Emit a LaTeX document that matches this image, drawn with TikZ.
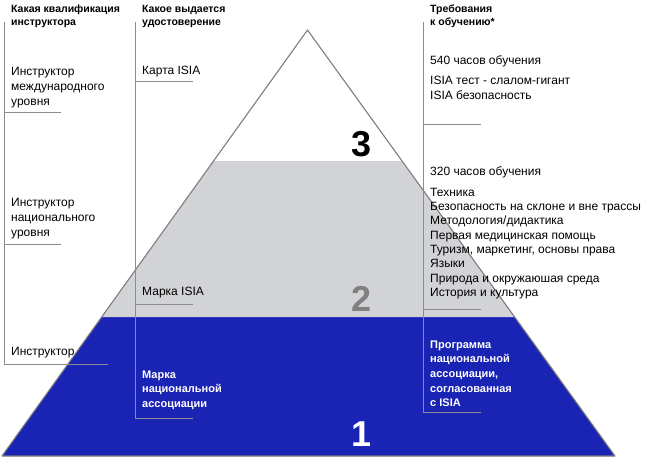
\documentclass[tikz,border=0pt]{standalone}
\usepackage{fontspec}
\setmainfont{Liberation Sans}
\usepackage{tikz}
\usetikzlibrary{calc}
\definecolor{isiaBlue}{RGB}{26,36,180}
\definecolor{isiaGray}{RGB}{210,211,214}
\definecolor{edgeGray}{RGB}{125,125,125}
\definecolor{tickGray}{RGB}{140,140,140}
\definecolor{numGray}{RGB}{128,128,128}

\begin{document}
\begin{tikzpicture}[x=1pt, y=-1pt,
  hdr/.style={anchor=base west, inner sep=0pt, align=left,
    font=\fontsize{10.5}{12.8}\selectfont\bfseries},
  lbl/.style={anchor=base west, inner sep=0pt, align=left,
    font=\fontsize{12}{15}\selectfont},
  lst/.style={anchor=base west, inner sep=0pt, align=left,
    font=\fontsize{12}{14.3}\selectfont},
  wlbl/.style={anchor=base west, inner sep=0pt, align=left, text=white,
    font=\fontsize{11}{14.6}\selectfont\bfseries},
  num/.style={anchor=base, inner sep=0pt,
    font=\fontsize{36}{36}\selectfont\bfseries},
  bracket/.style={draw=tickGray, line width=0.8pt}]
\useasboundingbox (0,0) rectangle (653,467);
% pyramid
\coordinate (apex) at (307.5,30);
\coordinate (baseL) at (2,456);
\coordinate (baseR) at (615,456);
\coordinate (grayL) at ($(apex)!0.3075!(baseL)$);
\coordinate (grayR) at ($(apex)!0.3075!(baseR)$);
\coordinate (blueL) at ($(apex)!0.6737!(baseL)$);
\coordinate (blueR) at ($(apex)!0.6737!(baseR)$);
\fill[isiaBlue] (blueL) -- (blueR) -- (baseR) -- (baseL) -- cycle;
\fill[isiaGray] (grayL) -- (grayR) -- (blueR) -- (blueL) -- cycle;
\draw[edgeGray, line width=1.1pt, line join=round] (apex) -- (baseR) -- (baseL) -- cycle;
\node[num, text=black] (numThree) at (362,156) {3};
\node[num, text=numGray] (numTwo) at (362,311) {2};
\node[num, text=white] (numOne) at (362,446) {1};
% brackets
\draw[bracket] (4,22) -- (4,364) -- (108,364);
\draw[bracket] (4,112) -- (61,112);
\draw[bracket] (4,244) -- (61,244);
\draw[bracket] (135,22) -- (135,418) -- (193,418);
\draw[bracket] (135,81) -- (193,81);
\draw[bracket] (135,304) -- (193,304);
\draw[bracket] (423,22) -- (423,412) -- (481,412);
\draw[bracket] (423,124) -- (481,124);
\draw[bracket] (423,309) -- (481,309);
% headers (base = last line)
\node[hdr] (hdrQual) at (11,25) {Какая квалификация\\инструктора};
\node[hdr] (hdrCert) at (142,25) {Какое выдается\\удостоверение};
\node[hdr] (hdrReq) at (430,25) {Требования\\к обучению*};
% qualification
\node[lbl] (qualIntl) at (11,105) {Инструктор\\международного\\уровня};
\node[lbl] (qualNat) at (11,236) {Инструктор\\национального\\уровня};
\node[lbl] (qualBase) at (11,355) {Инструктор};
% certificate
\node[lbl] (certCard) at (142,74) {Карта ISIA};
\node[lbl] (certMark) at (142,295) {Марка ISIA};
\node[wlbl] (certNat) at (142,407.5) {Марка\\национальной\\ассоциации};
% requirements
\node[lbl] (reqHours) at (430,64) {540 часов обучения};
\node[lbl] (reqTest) at (430,99.5) {ISIA тест - слалом-гигант\\ISIA безопасность};
\node[lbl] (reqMid) at (430,175) {320 часов обучения};
\node[lst] (reqList) at (430,296.3) {Техника\\Безопасность на склоне и вне трассы\\Методология/дидактика\\Первая медицинская помощь\\Туризм, маркетинг, основы права\\Языки\\Природа и окружаюшая среда\\История и культура};
\node[wlbl] (reqNat) at (430,406.6) {Программа\\национальной\\ассоциации,\\согласованная\\с ISIA};
\end{tikzpicture}
\end{document}
